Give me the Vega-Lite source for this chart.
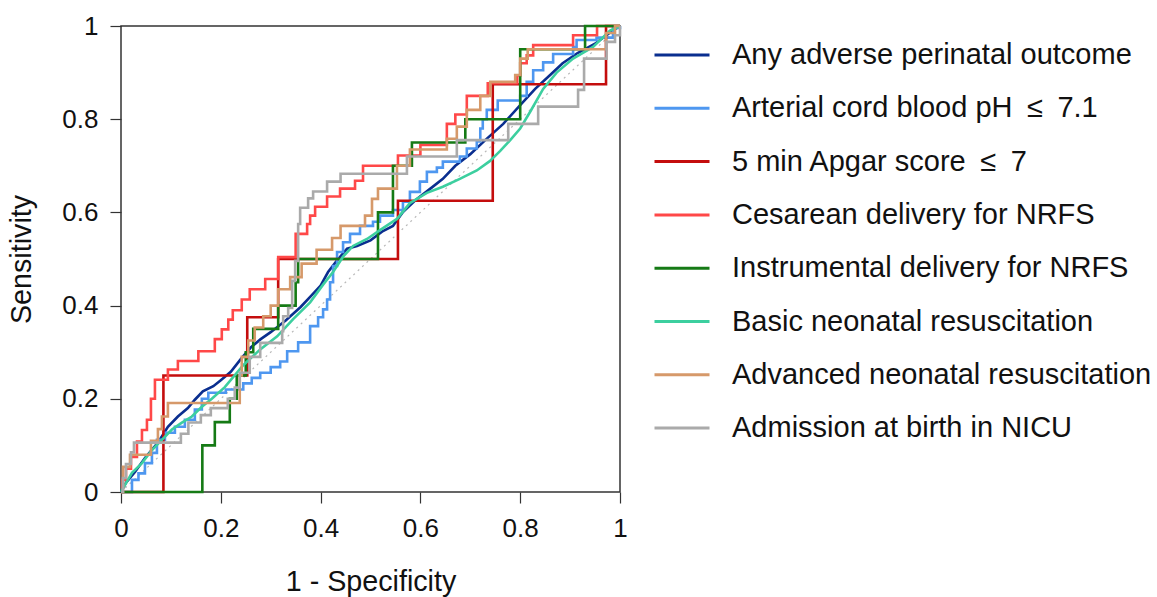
{
  "$schema": "https://vega.github.io/schema/vega-lite/v6.json",
  "autosize": {"type": "none"},
  "padding": {"left": 121, "top": 26, "right": 537, "bottom": 105},
  "width": 499,
  "height": 466,
  "background": "white",
  "config": {
    "font": "Liberation Sans",
    "view": {"stroke": "#333333", "strokeWidth": 1.5},
    "axis": {"grid": false, "domain": false, "labelFlush": false, "tickColor": "#333333", "tickSize": 11, "tickWidth": 1.2, "labelFontSize": 26, "labelColor": "#111111", "titleFontSize": 28.7, "titleFontWeight": "normal", "titleColor": "#111111"}
  },
  "datasets": {
    "diag": [{"x": 0, "y": 0}, {"x": 1, "y": 1}],
    "roc": [
      {"outcome": "Any adverse perinatal outcome", "x": 0, "y": 0},
      {"outcome": "Any adverse perinatal outcome", "x": 0.01, "y": 0.02},
      {"outcome": "Any adverse perinatal outcome", "x": 0.028, "y": 0.043},
      {"outcome": "Any adverse perinatal outcome", "x": 0.048, "y": 0.073},
      {"outcome": "Any adverse perinatal outcome", "x": 0.074, "y": 0.106},
      {"outcome": "Any adverse perinatal outcome", "x": 0.094, "y": 0.14},
      {"outcome": "Any adverse perinatal outcome", "x": 0.114, "y": 0.162},
      {"outcome": "Any adverse perinatal outcome", "x": 0.134, "y": 0.18},
      {"outcome": "Any adverse perinatal outcome", "x": 0.148, "y": 0.198},
      {"outcome": "Any adverse perinatal outcome", "x": 0.164, "y": 0.216},
      {"outcome": "Any adverse perinatal outcome", "x": 0.185, "y": 0.227},
      {"outcome": "Any adverse perinatal outcome", "x": 0.2, "y": 0.24},
      {"outcome": "Any adverse perinatal outcome", "x": 0.22, "y": 0.258},
      {"outcome": "Any adverse perinatal outcome", "x": 0.24, "y": 0.285},
      {"outcome": "Any adverse perinatal outcome", "x": 0.26, "y": 0.31},
      {"outcome": "Any adverse perinatal outcome", "x": 0.28, "y": 0.328},
      {"outcome": "Any adverse perinatal outcome", "x": 0.3, "y": 0.343},
      {"outcome": "Any adverse perinatal outcome", "x": 0.33, "y": 0.368},
      {"outcome": "Any adverse perinatal outcome", "x": 0.36, "y": 0.397},
      {"outcome": "Any adverse perinatal outcome", "x": 0.38, "y": 0.42},
      {"outcome": "Any adverse perinatal outcome", "x": 0.4, "y": 0.443},
      {"outcome": "Any adverse perinatal outcome", "x": 0.415, "y": 0.472},
      {"outcome": "Any adverse perinatal outcome", "x": 0.433, "y": 0.497},
      {"outcome": "Any adverse perinatal outcome", "x": 0.453, "y": 0.522},
      {"outcome": "Any adverse perinatal outcome", "x": 0.473, "y": 0.528},
      {"outcome": "Any adverse perinatal outcome", "x": 0.5, "y": 0.54},
      {"outcome": "Any adverse perinatal outcome", "x": 0.525, "y": 0.56},
      {"outcome": "Any adverse perinatal outcome", "x": 0.545, "y": 0.571},
      {"outcome": "Any adverse perinatal outcome", "x": 0.565, "y": 0.601},
      {"outcome": "Any adverse perinatal outcome", "x": 0.593, "y": 0.629},
      {"outcome": "Any adverse perinatal outcome", "x": 0.62, "y": 0.651},
      {"outcome": "Any adverse perinatal outcome", "x": 0.645, "y": 0.672},
      {"outcome": "Any adverse perinatal outcome", "x": 0.67, "y": 0.7},
      {"outcome": "Any adverse perinatal outcome", "x": 0.7, "y": 0.725},
      {"outcome": "Any adverse perinatal outcome", "x": 0.73, "y": 0.755},
      {"outcome": "Any adverse perinatal outcome", "x": 0.766, "y": 0.79},
      {"outcome": "Any adverse perinatal outcome", "x": 0.8, "y": 0.83},
      {"outcome": "Any adverse perinatal outcome", "x": 0.83, "y": 0.865},
      {"outcome": "Any adverse perinatal outcome", "x": 0.86, "y": 0.895},
      {"outcome": "Any adverse perinatal outcome", "x": 0.885, "y": 0.92},
      {"outcome": "Any adverse perinatal outcome", "x": 0.915, "y": 0.942},
      {"outcome": "Any adverse perinatal outcome", "x": 0.95, "y": 0.962},
      {"outcome": "Any adverse perinatal outcome", "x": 0.985, "y": 0.99},
      {"outcome": "Any adverse perinatal outcome", "x": 1, "y": 1},

      {"outcome": "Arterial cord blood pH\u2002≤\u20027.1", "x": 0, "y": 0},
      {"outcome": "Arterial cord blood pH\u2002≤\u20027.1", "x": 0.022, "y": 0.026},
      {"outcome": "Arterial cord blood pH\u2002≤\u20027.1", "x": 0.035, "y": 0.04},
      {"outcome": "Arterial cord blood pH\u2002≤\u20027.1", "x": 0.048, "y": 0.062},
      {"outcome": "Arterial cord blood pH\u2002≤\u20027.1", "x": 0.062, "y": 0.084},
      {"outcome": "Arterial cord blood pH\u2002≤\u20027.1", "x": 0.072, "y": 0.112},
      {"outcome": "Arterial cord blood pH\u2002≤\u20027.1", "x": 0.088, "y": 0.127},
      {"outcome": "Arterial cord blood pH\u2002≤\u20027.1", "x": 0.108, "y": 0.14},
      {"outcome": "Arterial cord blood pH\u2002≤\u20027.1", "x": 0.128, "y": 0.155},
      {"outcome": "Arterial cord blood pH\u2002≤\u20027.1", "x": 0.148, "y": 0.177},
      {"outcome": "Arterial cord blood pH\u2002≤\u20027.1", "x": 0.162, "y": 0.2},
      {"outcome": "Arterial cord blood pH\u2002≤\u20027.1", "x": 0.175, "y": 0.213},
      {"outcome": "Arterial cord blood pH\u2002≤\u20027.1", "x": 0.21, "y": 0.22},
      {"outcome": "Arterial cord blood pH\u2002≤\u20027.1", "x": 0.245, "y": 0.233},
      {"outcome": "Arterial cord blood pH\u2002≤\u20027.1", "x": 0.262, "y": 0.245},
      {"outcome": "Arterial cord blood pH\u2002≤\u20027.1", "x": 0.279, "y": 0.256},
      {"outcome": "Arterial cord blood pH\u2002≤\u20027.1", "x": 0.3, "y": 0.268},
      {"outcome": "Arterial cord blood pH\u2002≤\u20027.1", "x": 0.319, "y": 0.28},
      {"outcome": "Arterial cord blood pH\u2002≤\u20027.1", "x": 0.333, "y": 0.302},
      {"outcome": "Arterial cord blood pH\u2002≤\u20027.1", "x": 0.355, "y": 0.321},
      {"outcome": "Arterial cord blood pH\u2002≤\u20027.1", "x": 0.379, "y": 0.356},
      {"outcome": "Arterial cord blood pH\u2002≤\u20027.1", "x": 0.395, "y": 0.375},
      {"outcome": "Arterial cord blood pH\u2002≤\u20027.1", "x": 0.405, "y": 0.392},
      {"outcome": "Arterial cord blood pH\u2002≤\u20027.1", "x": 0.413, "y": 0.413},
      {"outcome": "Arterial cord blood pH\u2002≤\u20027.1", "x": 0.419, "y": 0.45},
      {"outcome": "Arterial cord blood pH\u2002≤\u20027.1", "x": 0.425, "y": 0.485},
      {"outcome": "Arterial cord blood pH\u2002≤\u20027.1", "x": 0.433, "y": 0.515},
      {"outcome": "Arterial cord blood pH\u2002≤\u20027.1", "x": 0.445, "y": 0.536},
      {"outcome": "Arterial cord blood pH\u2002≤\u20027.1", "x": 0.459, "y": 0.554},
      {"outcome": "Arterial cord blood pH\u2002≤\u20027.1", "x": 0.479, "y": 0.571},
      {"outcome": "Arterial cord blood pH\u2002≤\u20027.1", "x": 0.505, "y": 0.58},
      {"outcome": "Arterial cord blood pH\u2002≤\u20027.1", "x": 0.519, "y": 0.593},
      {"outcome": "Arterial cord blood pH\u2002≤\u20027.1", "x": 0.545, "y": 0.605},
      {"outcome": "Arterial cord blood pH\u2002≤\u20027.1", "x": 0.565, "y": 0.623},
      {"outcome": "Arterial cord blood pH\u2002≤\u20027.1", "x": 0.579, "y": 0.644},
      {"outcome": "Arterial cord blood pH\u2002≤\u20027.1", "x": 0.599, "y": 0.666},
      {"outcome": "Arterial cord blood pH\u2002≤\u20027.1", "x": 0.613, "y": 0.687},
      {"outcome": "Arterial cord blood pH\u2002≤\u20027.1", "x": 0.633, "y": 0.696},
      {"outcome": "Arterial cord blood pH\u2002≤\u20027.1", "x": 0.645, "y": 0.709},
      {"outcome": "Arterial cord blood pH\u2002≤\u20027.1", "x": 0.679, "y": 0.72},
      {"outcome": "Arterial cord blood pH\u2002≤\u20027.1", "x": 0.693, "y": 0.737},
      {"outcome": "Arterial cord blood pH\u2002≤\u20027.1", "x": 0.713, "y": 0.752},
      {"outcome": "Arterial cord blood pH\u2002≤\u20027.1", "x": 0.72, "y": 0.78},
      {"outcome": "Arterial cord blood pH\u2002≤\u20027.1", "x": 0.725, "y": 0.8},
      {"outcome": "Arterial cord blood pH\u2002≤\u20027.1", "x": 0.733, "y": 0.82},
      {"outcome": "Arterial cord blood pH\u2002≤\u20027.1", "x": 0.755, "y": 0.84},
      {"outcome": "Arterial cord blood pH\u2002≤\u20027.1", "x": 0.8, "y": 0.85},
      {"outcome": "Arterial cord blood pH\u2002≤\u20027.1", "x": 0.813, "y": 0.88},
      {"outcome": "Arterial cord blood pH\u2002≤\u20027.1", "x": 0.826, "y": 0.905},
      {"outcome": "Arterial cord blood pH\u2002≤\u20027.1", "x": 0.846, "y": 0.922},
      {"outcome": "Arterial cord blood pH\u2002≤\u20027.1", "x": 0.866, "y": 0.94},
      {"outcome": "Arterial cord blood pH\u2002≤\u20027.1", "x": 0.906, "y": 0.955},
      {"outcome": "Arterial cord blood pH\u2002≤\u20027.1", "x": 0.913, "y": 0.97},
      {"outcome": "Arterial cord blood pH\u2002≤\u20027.1", "x": 0.953, "y": 0.975},
      {"outcome": "Arterial cord blood pH\u2002≤\u20027.1", "x": 0.986, "y": 0.996},
      {"outcome": "Arterial cord blood pH\u2002≤\u20027.1", "x": 1, "y": 1},

      {"outcome": "5 min Apgar score\u2002≤\u20027", "x": 0, "y": 0},
      {"outcome": "5 min Apgar score\u2002≤\u20027", "x": 0.085, "y": 0.25},
      {"outcome": "5 min Apgar score\u2002≤\u20027", "x": 0.253, "y": 0.375},
      {"outcome": "5 min Apgar score\u2002≤\u20027", "x": 0.315, "y": 0.5},
      {"outcome": "5 min Apgar score\u2002≤\u20027", "x": 0.555, "y": 0.625},
      {"outcome": "5 min Apgar score\u2002≤\u20027", "x": 0.745, "y": 0.875},
      {"outcome": "5 min Apgar score\u2002≤\u20027", "x": 0.972, "y": 1},
      {"outcome": "5 min Apgar score\u2002≤\u20027", "x": 1, "y": 1},

      {"outcome": "Cesarean delivery for NRFS", "x": 0, "y": 0},
      {"outcome": "Cesarean delivery for NRFS", "x": 0.003, "y": 0.026},
      {"outcome": "Cesarean delivery for NRFS", "x": 0.01, "y": 0.05},
      {"outcome": "Cesarean delivery for NRFS", "x": 0.02, "y": 0.075},
      {"outcome": "Cesarean delivery for NRFS", "x": 0.032, "y": 0.108},
      {"outcome": "Cesarean delivery for NRFS", "x": 0.042, "y": 0.133},
      {"outcome": "Cesarean delivery for NRFS", "x": 0.052, "y": 0.155},
      {"outcome": "Cesarean delivery for NRFS", "x": 0.06, "y": 0.2},
      {"outcome": "Cesarean delivery for NRFS", "x": 0.068, "y": 0.241},
      {"outcome": "Cesarean delivery for NRFS", "x": 0.094, "y": 0.263},
      {"outcome": "Cesarean delivery for NRFS", "x": 0.114, "y": 0.281},
      {"outcome": "Cesarean delivery for NRFS", "x": 0.155, "y": 0.302},
      {"outcome": "Cesarean delivery for NRFS", "x": 0.188, "y": 0.328},
      {"outcome": "Cesarean delivery for NRFS", "x": 0.202, "y": 0.349},
      {"outcome": "Cesarean delivery for NRFS", "x": 0.215, "y": 0.37},
      {"outcome": "Cesarean delivery for NRFS", "x": 0.224, "y": 0.39},
      {"outcome": "Cesarean delivery for NRFS", "x": 0.242, "y": 0.413},
      {"outcome": "Cesarean delivery for NRFS", "x": 0.258, "y": 0.435},
      {"outcome": "Cesarean delivery for NRFS", "x": 0.289, "y": 0.457},
      {"outcome": "Cesarean delivery for NRFS", "x": 0.315, "y": 0.504},
      {"outcome": "Cesarean delivery for NRFS", "x": 0.35, "y": 0.554},
      {"outcome": "Cesarean delivery for NRFS", "x": 0.373, "y": 0.575},
      {"outcome": "Cesarean delivery for NRFS", "x": 0.379, "y": 0.593},
      {"outcome": "Cesarean delivery for NRFS", "x": 0.389, "y": 0.612},
      {"outcome": "Cesarean delivery for NRFS", "x": 0.413, "y": 0.634},
      {"outcome": "Cesarean delivery for NRFS", "x": 0.439, "y": 0.651},
      {"outcome": "Cesarean delivery for NRFS", "x": 0.469, "y": 0.668},
      {"outcome": "Cesarean delivery for NRFS", "x": 0.485, "y": 0.7},
      {"outcome": "Cesarean delivery for NRFS", "x": 0.555, "y": 0.722},
      {"outcome": "Cesarean delivery for NRFS", "x": 0.6, "y": 0.745},
      {"outcome": "Cesarean delivery for NRFS", "x": 0.653, "y": 0.79},
      {"outcome": "Cesarean delivery for NRFS", "x": 0.67, "y": 0.81},
      {"outcome": "Cesarean delivery for NRFS", "x": 0.693, "y": 0.85},
      {"outcome": "Cesarean delivery for NRFS", "x": 0.735, "y": 0.877},
      {"outcome": "Cesarean delivery for NRFS", "x": 0.794, "y": 0.894},
      {"outcome": "Cesarean delivery for NRFS", "x": 0.8, "y": 0.92},
      {"outcome": "Cesarean delivery for NRFS", "x": 0.813, "y": 0.937},
      {"outcome": "Cesarean delivery for NRFS", "x": 0.826, "y": 0.959},
      {"outcome": "Cesarean delivery for NRFS", "x": 0.906, "y": 0.98},
      {"outcome": "Cesarean delivery for NRFS", "x": 0.954, "y": 1},
      {"outcome": "Cesarean delivery for NRFS", "x": 1, "y": 1},

      {"outcome": "Instrumental delivery for NRFS", "x": 0, "y": 0},
      {"outcome": "Instrumental delivery for NRFS", "x": 0.163, "y": 0.1},
      {"outcome": "Instrumental delivery for NRFS", "x": 0.188, "y": 0.15},
      {"outcome": "Instrumental delivery for NRFS", "x": 0.218, "y": 0.2},
      {"outcome": "Instrumental delivery for NRFS", "x": 0.232, "y": 0.25},
      {"outcome": "Instrumental delivery for NRFS", "x": 0.25, "y": 0.3},
      {"outcome": "Instrumental delivery for NRFS", "x": 0.265, "y": 0.35},
      {"outcome": "Instrumental delivery for NRFS", "x": 0.315, "y": 0.4},
      {"outcome": "Instrumental delivery for NRFS", "x": 0.35, "y": 0.45},
      {"outcome": "Instrumental delivery for NRFS", "x": 0.355, "y": 0.5},
      {"outcome": "Instrumental delivery for NRFS", "x": 0.515, "y": 0.6},
      {"outcome": "Instrumental delivery for NRFS", "x": 0.545, "y": 0.7},
      {"outcome": "Instrumental delivery for NRFS", "x": 0.583, "y": 0.75},
      {"outcome": "Instrumental delivery for NRFS", "x": 0.69, "y": 0.8},
      {"outcome": "Instrumental delivery for NRFS", "x": 0.8, "y": 0.95},
      {"outcome": "Instrumental delivery for NRFS", "x": 0.93, "y": 1},
      {"outcome": "Instrumental delivery for NRFS", "x": 1, "y": 1},

      {"outcome": "Basic neonatal resuscitation", "x": 0, "y": 0},
      {"outcome": "Basic neonatal resuscitation", "x": 0.002, "y": 0.004},
      {"outcome": "Basic neonatal resuscitation", "x": 0.022, "y": 0.041},
      {"outcome": "Basic neonatal resuscitation", "x": 0.042, "y": 0.062},
      {"outcome": "Basic neonatal resuscitation", "x": 0.062, "y": 0.09},
      {"outcome": "Basic neonatal resuscitation", "x": 0.082, "y": 0.112},
      {"outcome": "Basic neonatal resuscitation", "x": 0.102, "y": 0.134},
      {"outcome": "Basic neonatal resuscitation", "x": 0.122, "y": 0.149},
      {"outcome": "Basic neonatal resuscitation", "x": 0.142, "y": 0.162},
      {"outcome": "Basic neonatal resuscitation", "x": 0.162, "y": 0.183},
      {"outcome": "Basic neonatal resuscitation", "x": 0.182, "y": 0.2},
      {"outcome": "Basic neonatal resuscitation", "x": 0.208, "y": 0.225},
      {"outcome": "Basic neonatal resuscitation", "x": 0.245, "y": 0.272},
      {"outcome": "Basic neonatal resuscitation", "x": 0.279, "y": 0.306},
      {"outcome": "Basic neonatal resuscitation", "x": 0.313, "y": 0.334},
      {"outcome": "Basic neonatal resuscitation", "x": 0.345, "y": 0.371},
      {"outcome": "Basic neonatal resuscitation", "x": 0.379, "y": 0.407},
      {"outcome": "Basic neonatal resuscitation", "x": 0.405, "y": 0.445},
      {"outcome": "Basic neonatal resuscitation", "x": 0.425, "y": 0.472},
      {"outcome": "Basic neonatal resuscitation", "x": 0.445, "y": 0.505},
      {"outcome": "Basic neonatal resuscitation", "x": 0.465, "y": 0.528},
      {"outcome": "Basic neonatal resuscitation", "x": 0.493, "y": 0.543},
      {"outcome": "Basic neonatal resuscitation", "x": 0.519, "y": 0.562},
      {"outcome": "Basic neonatal resuscitation", "x": 0.553, "y": 0.586},
      {"outcome": "Basic neonatal resuscitation", "x": 0.579, "y": 0.62},
      {"outcome": "Basic neonatal resuscitation", "x": 0.613, "y": 0.642},
      {"outcome": "Basic neonatal resuscitation", "x": 0.645, "y": 0.655},
      {"outcome": "Basic neonatal resuscitation", "x": 0.679, "y": 0.672},
      {"outcome": "Basic neonatal resuscitation", "x": 0.713, "y": 0.69},
      {"outcome": "Basic neonatal resuscitation", "x": 0.739, "y": 0.71},
      {"outcome": "Basic neonatal resuscitation", "x": 0.76, "y": 0.732},
      {"outcome": "Basic neonatal resuscitation", "x": 0.78, "y": 0.755},
      {"outcome": "Basic neonatal resuscitation", "x": 0.8, "y": 0.78},
      {"outcome": "Basic neonatal resuscitation", "x": 0.82, "y": 0.816},
      {"outcome": "Basic neonatal resuscitation", "x": 0.846, "y": 0.865},
      {"outcome": "Basic neonatal resuscitation", "x": 0.873, "y": 0.9},
      {"outcome": "Basic neonatal resuscitation", "x": 0.906, "y": 0.93},
      {"outcome": "Basic neonatal resuscitation", "x": 0.946, "y": 0.955},
      {"outcome": "Basic neonatal resuscitation", "x": 0.98, "y": 0.99},
      {"outcome": "Basic neonatal resuscitation", "x": 1, "y": 1},

      {"outcome": "Advanced neonatal resuscitation", "x": 0, "y": 0},
      {"outcome": "Advanced neonatal resuscitation", "x": 0.004, "y": 0.054},
      {"outcome": "Advanced neonatal resuscitation", "x": 0.018, "y": 0.08},
      {"outcome": "Advanced neonatal resuscitation", "x": 0.06, "y": 0.11},
      {"outcome": "Advanced neonatal resuscitation", "x": 0.074, "y": 0.135},
      {"outcome": "Advanced neonatal resuscitation", "x": 0.082, "y": 0.162},
      {"outcome": "Advanced neonatal resuscitation", "x": 0.094, "y": 0.191},
      {"outcome": "Advanced neonatal resuscitation", "x": 0.238, "y": 0.25},
      {"outcome": "Advanced neonatal resuscitation", "x": 0.242, "y": 0.29},
      {"outcome": "Advanced neonatal resuscitation", "x": 0.255, "y": 0.325},
      {"outcome": "Advanced neonatal resuscitation", "x": 0.268, "y": 0.353},
      {"outcome": "Advanced neonatal resuscitation", "x": 0.285, "y": 0.377},
      {"outcome": "Advanced neonatal resuscitation", "x": 0.3, "y": 0.4},
      {"outcome": "Advanced neonatal resuscitation", "x": 0.315, "y": 0.435},
      {"outcome": "Advanced neonatal resuscitation", "x": 0.339, "y": 0.461},
      {"outcome": "Advanced neonatal resuscitation", "x": 0.362, "y": 0.49},
      {"outcome": "Advanced neonatal resuscitation", "x": 0.392, "y": 0.52},
      {"outcome": "Advanced neonatal resuscitation", "x": 0.423, "y": 0.545},
      {"outcome": "Advanced neonatal resuscitation", "x": 0.44, "y": 0.571},
      {"outcome": "Advanced neonatal resuscitation", "x": 0.489, "y": 0.593},
      {"outcome": "Advanced neonatal resuscitation", "x": 0.503, "y": 0.629},
      {"outcome": "Advanced neonatal resuscitation", "x": 0.515, "y": 0.651},
      {"outcome": "Advanced neonatal resuscitation", "x": 0.553, "y": 0.7},
      {"outcome": "Advanced neonatal resuscitation", "x": 0.579, "y": 0.735},
      {"outcome": "Advanced neonatal resuscitation", "x": 0.653, "y": 0.758},
      {"outcome": "Advanced neonatal resuscitation", "x": 0.673, "y": 0.784},
      {"outcome": "Advanced neonatal resuscitation", "x": 0.693, "y": 0.82},
      {"outcome": "Advanced neonatal resuscitation", "x": 0.72, "y": 0.85},
      {"outcome": "Advanced neonatal resuscitation", "x": 0.74, "y": 0.88},
      {"outcome": "Advanced neonatal resuscitation", "x": 0.79, "y": 0.895},
      {"outcome": "Advanced neonatal resuscitation", "x": 0.8, "y": 0.93},
      {"outcome": "Advanced neonatal resuscitation", "x": 0.815, "y": 0.95},
      {"outcome": "Advanced neonatal resuscitation", "x": 0.972, "y": 0.985},
      {"outcome": "Advanced neonatal resuscitation", "x": 0.99, "y": 1},
      {"outcome": "Advanced neonatal resuscitation", "x": 1, "y": 1},

      {"outcome": "Admission at birth in NICU", "x": 0, "y": 0},
      {"outcome": "Admission at birth in NICU", "x": 0.004, "y": 0.03},
      {"outcome": "Admission at birth in NICU", "x": 0.01, "y": 0.06},
      {"outcome": "Admission at birth in NICU", "x": 0.02, "y": 0.085},
      {"outcome": "Admission at birth in NICU", "x": 0.026, "y": 0.106},
      {"outcome": "Admission at birth in NICU", "x": 0.12, "y": 0.125},
      {"outcome": "Admission at birth in NICU", "x": 0.135, "y": 0.149},
      {"outcome": "Admission at birth in NICU", "x": 0.16, "y": 0.165},
      {"outcome": "Admission at birth in NICU", "x": 0.18, "y": 0.18},
      {"outcome": "Admission at birth in NICU", "x": 0.214, "y": 0.2},
      {"outcome": "Admission at birth in NICU", "x": 0.228, "y": 0.224},
      {"outcome": "Admission at birth in NICU", "x": 0.238, "y": 0.256},
      {"outcome": "Admission at birth in NICU", "x": 0.258, "y": 0.29},
      {"outcome": "Admission at birth in NICU", "x": 0.279, "y": 0.32},
      {"outcome": "Admission at birth in NICU", "x": 0.323, "y": 0.345},
      {"outcome": "Admission at birth in NICU", "x": 0.325, "y": 0.377},
      {"outcome": "Admission at birth in NICU", "x": 0.335, "y": 0.395},
      {"outcome": "Admission at birth in NICU", "x": 0.343, "y": 0.453},
      {"outcome": "Admission at birth in NICU", "x": 0.349, "y": 0.496},
      {"outcome": "Admission at birth in NICU", "x": 0.355, "y": 0.575},
      {"outcome": "Admission at birth in NICU", "x": 0.359, "y": 0.61},
      {"outcome": "Admission at birth in NICU", "x": 0.375, "y": 0.63},
      {"outcome": "Admission at birth in NICU", "x": 0.385, "y": 0.645},
      {"outcome": "Admission at birth in NICU", "x": 0.413, "y": 0.666},
      {"outcome": "Admission at birth in NICU", "x": 0.44, "y": 0.683},
      {"outcome": "Admission at birth in NICU", "x": 0.573, "y": 0.72},
      {"outcome": "Admission at birth in NICU", "x": 0.673, "y": 0.755},
      {"outcome": "Admission at birth in NICU", "x": 0.776, "y": 0.79},
      {"outcome": "Admission at birth in NICU", "x": 0.836, "y": 0.827},
      {"outcome": "Admission at birth in NICU", "x": 0.916, "y": 0.863},
      {"outcome": "Admission at birth in NICU", "x": 0.928, "y": 0.93},
      {"outcome": "Admission at birth in NICU", "x": 0.973, "y": 0.966},
      {"outcome": "Admission at birth in NICU", "x": 0.99, "y": 0.98},
      {"outcome": "Admission at birth in NICU", "x": 1, "y": 1}
    ]
  },
  "encoding": {
    "x": {"field": "x", "type": "quantitative", "scale": {"domain": [0, 1], "nice": false},
      "axis": {"values": [0, 0.2, 0.4, 0.6, 0.8, 1], "format": "~g", "title": "1 - Specificity", "labelPadding": 12, "titlePadding": 26}},
    "y": {"field": "y", "type": "quantitative", "scale": {"domain": [0, 1], "nice": false},
      "axis": {"values": [0, 0.2, 0.4, 0.6, 0.8, 1], "format": "~g", "title": "Sensitivity", "labelPadding": 12, "titlePadding": 25}}
  },
  "layer": [
    {
      "data": {"name": "diag"},
      "mark": {"type": "line", "color": "#b8b8b8", "strokeWidth": 1.2, "strokeDash": [2, 4]},
      "encoding": {}
    },
    {
      "data": {"name": "roc"},
      "transform": [{"filter": {"field": "outcome", "oneOf": ["Any adverse perinatal outcome"]}}],
      "mark": {"type": "line", "strokeWidth": 2.6, "interpolate": "linear"},
      "encoding": {"color": {"field": "outcome", "type": "nominal"}}
    },
    {
      "data": {"name": "roc"},
      "transform": [{"filter": {"field": "outcome", "oneOf": ["Arterial cord blood pH\u2002≤\u20027.1", "5 min Apgar score\u2002≤\u20027", "Cesarean delivery for NRFS", "Instrumental delivery for NRFS"]}}],
      "mark": {"type": "line", "strokeWidth": 2.6, "interpolate": "step-after"},
      "encoding": {"color": {"field": "outcome", "type": "nominal"}}
    },
    {
      "data": {"name": "roc"},
      "transform": [{"filter": {"field": "outcome", "oneOf": ["Basic neonatal resuscitation"]}}],
      "mark": {"type": "line", "strokeWidth": 2.6, "interpolate": "linear"},
      "encoding": {"color": {"field": "outcome", "type": "nominal"}}
    },
    {
      "data": {"name": "roc"},
      "transform": [{"filter": {"field": "outcome", "oneOf": ["Advanced neonatal resuscitation", "Admission at birth in NICU"]}}],
      "mark": {"type": "line", "strokeWidth": 2.6, "interpolate": "step-after"},
      "encoding": {
        "color": {
          "field": "outcome", "type": "nominal",
          "scale": {
            "domain": ["Any adverse perinatal outcome", "Arterial cord blood pH\u2002≤\u20027.1", "5 min Apgar score\u2002≤\u20027", "Cesarean delivery for NRFS", "Instrumental delivery for NRFS", "Basic neonatal resuscitation", "Advanced neonatal resuscitation", "Admission at birth in NICU"],
            "range": ["#0a2e8f", "#4e97f0", "#c40d0d", "#ff4848", "#157a15", "#3ccf9f", "#d6996a", "#aaaaaa"]
          },
          "legend": {
            "title": null, "orient": "none", "legendX": 532, "legendY": 0,
            "direction": "vertical", "columns": 1,
            "symbolType": "stroke", "symbolSize": 3025, "symbolStrokeWidth": 3,
            "labelFontSize": 29, "labelColor": "#111111", "labelOffset": 21, "labelLimit": 0,
            "rowPadding": 9.3
          }
        }
      }
    }
  ]
}
